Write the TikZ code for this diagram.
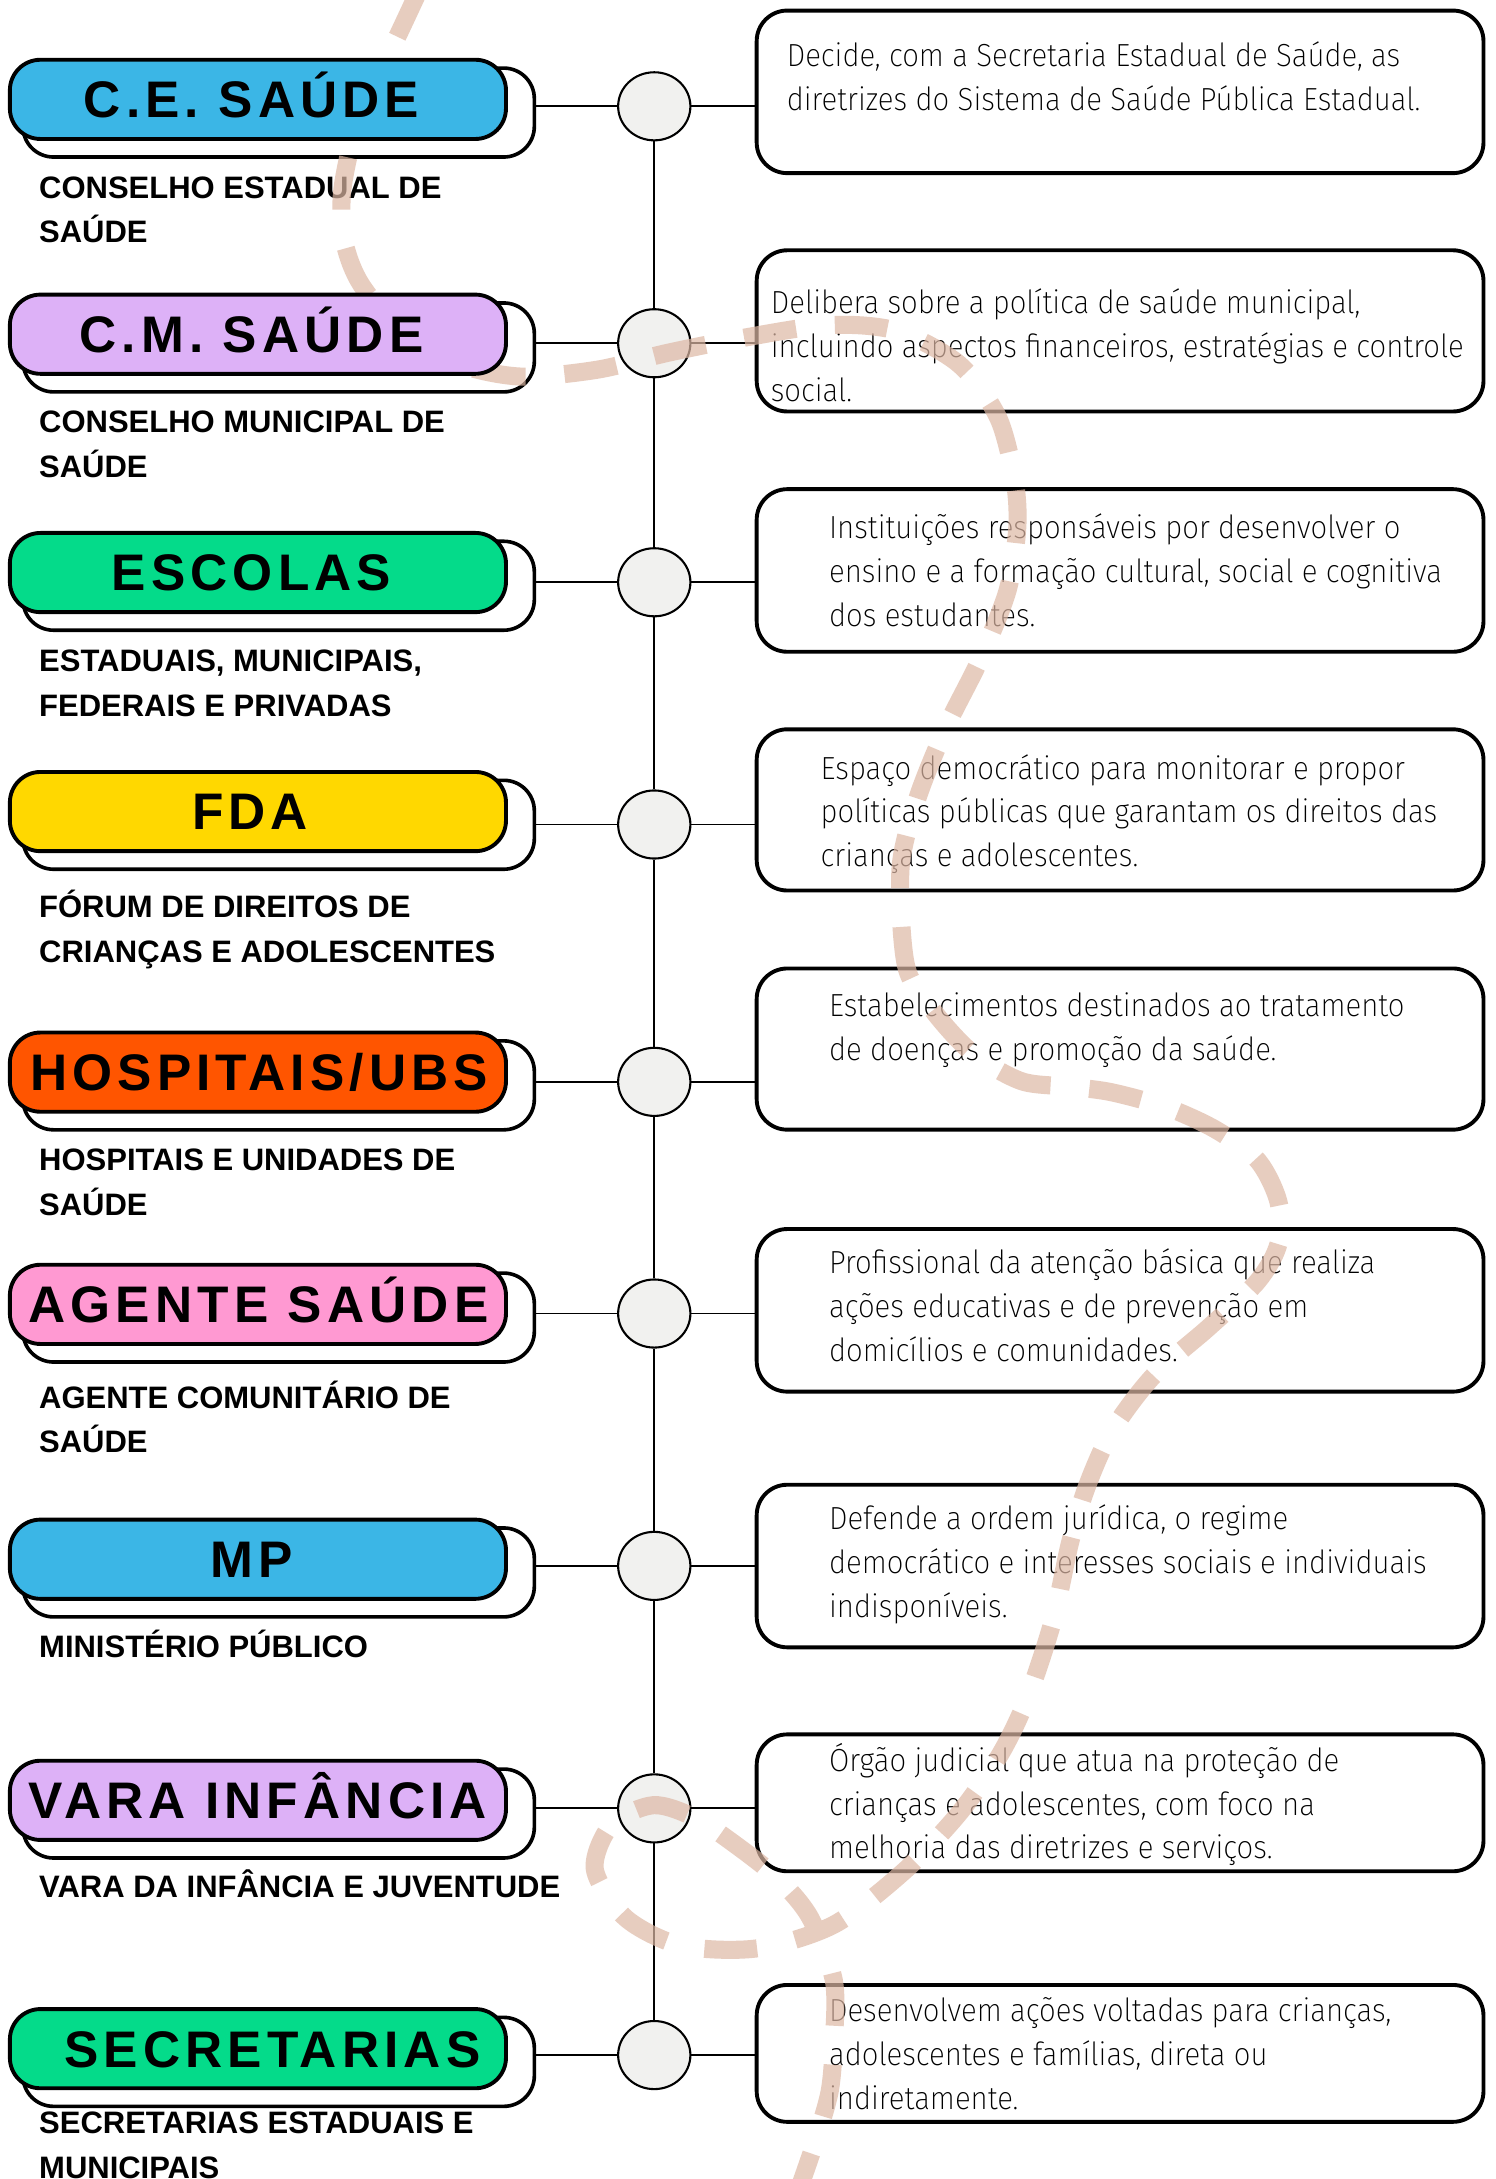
\documentclass[tikz,border=0pt]{standalone}
\usepackage{fontspec}
\usetikzlibrary{shapes.geometric}
\setmainfont{Liberation Sans}
\newfontfamily\titlefont{Liberation Sans}[LetterSpace=10]
\newfontfamily\descfont{Fira Sans ExtraLight}[FakeStretch=0.92]
\definecolor{skyblue}{HTML}{3BB6E6}
\definecolor{lilac}{HTML}{DDB1F7}
\definecolor{mint}{HTML}{04DB8A}
\definecolor{sun}{HTML}{FFD800}
\definecolor{flame}{HTML}{FF5500}
\definecolor{rose}{HTML}{FF99D2}
\definecolor{hubgray}{HTML}{F1F1EF}
\definecolor{sand}{RGB}{222,184,165}
\newcommand\lines[1]{\parbox[t]{540pt}{\raggedright #1}}

\tikzset{
    pill/.style={draw=black, line width=2.8pt, rounded corners=22pt, minimum width=357pt, minimum height=57pt, inner sep=0pt},
    pilltext/.style={inner sep=0pt, text height=26.5pt, text depth=0pt, font=\titlefont\bfseries\fontsize{37}{37}\selectfont},
    shadowpill/.style={draw=black, fill=white, line width=2.6pt, rounded corners=22pt, minimum width=368pt, minimum height=64pt},
    hub/.style={ellipse, draw=black, fill=hubgray, line width=1.5pt, minimum width=52pt, minimum height=49pt, inner sep=0pt},
    infobox/.style={draw=black, fill=white, line width=2.8pt, rounded corners=22pt, minimum width=523pt, inner sep=0pt},
    link/.style={line width=1.3pt},
    subline/.style={anchor=base west, inner sep=0pt, font=\bfseries\fontsize{22.3}{32}\selectfont},
    descline/.style={anchor=base west, inner sep=0pt, font=\descfont\fontsize{23}{31.6}\selectfont},
    trail/.style={draw=sand, opacity=0.7, line width=13pt, dash pattern=on 38pt off 28pt}
}

\begin{document}
\begin{tikzpicture}[x=1pt,y=-1pt]
    \fill[white] (0,0) rectangle (1076,1568);
    \useasboundingbox (0,0) rectangle (1076,1568);

    \foreach \i/\py/\cy/\by/\bh in {1/71.5/76.5/66.1/117, 2/240.5/247/238.1/116, 3/412/419/410.5/117,
        4/584/593.3/582.8/116, 5/771.5/778.5/754.9/116, 6/938.6/945.2/942.9/117,
        7/1122/1126.8/1126.9/117, 8/1295.5/1301.3/1297.3/98.5, 9/1474.2/1478.8/1477.6/98.5}
    {\node[shadowpill] (s\i) at (200.5,\py+9.5) {};
    \node[infobox, minimum height=\bh pt] (b\i) at (806,\by) {};
    \node[hub] (c\i) at (470.8,\cy) {};
    \draw[link] (s\i.east |- c\i.center) -- (c\i.west);
    \draw[link] (c\i.east) -- (b\i.west |- c\i.center); }

    \foreach \i [count=\j from 2] in {1,...,8}
    {\draw[link] (c\i.south) -- (c\j.north); }

    \node[descline] (d1) at (566,48.2) {\lines{Decide, com a Secretaria Estadual de Saúde, as\\diretrizes do Sistema de Saúde Pública Estadual.}}; %CES
    \node[descline] (d2) at (554.5,225.6) {\lines{Delibera sobre a política de saúde municipal,\\incluindo aspectos financeiros, estratégias e controle\\social.}}; %CMS
    \node[descline] (d3) at (596.4,387.4) {\lines{Instituições responsáveis por desenvolver o\\ensino e a formação cultural, social e cognitiva\\dos estudantes.}}; %escolas
    \node[descline] (d4) at (590.4,560.6) {\lines{Espaço democrático para monitorar e propor\\políticas públicas que garantam os direitos das\\crianças e adolescentes.}}; %FDA
    \node[descline] (d5) at (596.4,731.5) {\lines{Estabelecimentos destinados ao tratamento\\de doenças e promoção da saúde.}}; %hospitais
    \node[descline] (d6) at (596.4,916.5) {\lines{Profissional da atenção básica que realiza\\ações educativas e de prevenção em\\domicílios e comunidades.}}; %agente
    \node[descline] (d7) at (596.4,1100.5) {\lines{Defende a ordem jurídica, o regime\\democrático e interesses sociais e individuais\\indisponíveis.}}; %MP
    \node[descline] (d8) at (596.4,1274.5) {\lines{Órgão judicial que atua na proteção de\\crianças e adolescentes, com foco na\\melhoria das diretrizes e serviços.}}; %vara
    \node[descline] (d9) at (596.4,1455) {\lines{Desenvolvem ações voltadas para crianças,\\adolescentes e famílias, direta ou\\indiretamente.}}; %secretarias

    \node[subline] (n1) at (28,142.8) {\lines{CONSELHO ESTADUAL DE\\SAÚDE}};
    \node[subline] (n2) at (28,311.5) {\lines{CONSELHO MUNICIPAL DE\\SAÚDE}};
    \node[subline] (n3) at (28,483.5) {\lines{ESTADUAIS, MUNICIPAIS,\\FEDERAIS E PRIVADAS}};
    \node[subline] (n4) at (28,660.5) {\lines{FÓRUM DE DIREITOS DE\\CRIANÇAS E ADOLESCENTES}};
    \node[subline] (n5) at (28,842.5) {\lines{HOSPITAIS E UNIDADES DE\\SAÚDE}};
    \node[subline] (n6) at (28,1013.5) {\lines{AGENTE COMUNITÁRIO DE\\SAÚDE}};
    \node[subline] (n7) at (28,1192.5) {\lines{MINISTÉRIO PÚBLICO}};
    \node[subline] (n8) at (28,1365.5) {\lines{VARA DA INFÂNCIA E JUVENTUDE}};
    \node[subline] (n9) at (28,1535.5) {\lines{SECRETARIAS ESTADUAIS E\\MUNICIPAIS}};

    % dashed trail behind the pills
    \begin{scope}
    \clip (0,0) rectangle (1076,1568);
    \draw[trail] plot[smooth, tension=0.5] coordinates {(302,-8) (288,22) (270,60) (254,100) (246,140) (248,175)
        (260,205) (290,240) (330,262) (375,271) (430,266) (480,254) (530,244) (595,234) (645,238) (690,262)
        (718,300) (730,345) (732,380) (725,425) (705,475) (680,525) (660,575) (648,625) (652,695) (672,728)
        (700,758) (735,778) (770,782) (800,786) (840,797) (875,813) (905,835) (920,865) (920,895) (905,922)
        (870,955) (830,990) (800,1030) (782,1070) (770,1110) (758,1165) (740,1220) (720,1262) (690,1305)
        (650,1347) (600,1385) (545,1402) (490,1400) (450,1380) (428,1345) (440,1313) (470,1299) (500,1308)
        (530,1328) (560,1352) (583,1380) (600,1425) (600,1470) (597,1505) (587,1540) (575,1575)};
    \end{scope}

    \foreach \i/\ttl/\col/\py/\tx in {1/{C.E. SAÚDE}/skyblue/71.5/181, 2/{C.M. SAÚDE}/lilac/240.5/181,
        3/ESCOLAS/mint/412/181, 4/FDA/sun/584/180, 5/{HOSPITAIS/UBS}/flame/771.5/186.5,
        6/{AGENTE SAÚDE}/rose/938.6/186, 7/MP/skyblue/1122/181, 8/{VARA INFÂNCIA}/lilac/1295.5/185.5,
        9/SECRETARIAS/mint/1474.2/196}
    {\node[pill, fill=\col] (t\i) at (185.6,\py) {};
    \node[pilltext] (w\i) at (\tx,\py) {\ttl}; }
\end{tikzpicture}
\end{document}
